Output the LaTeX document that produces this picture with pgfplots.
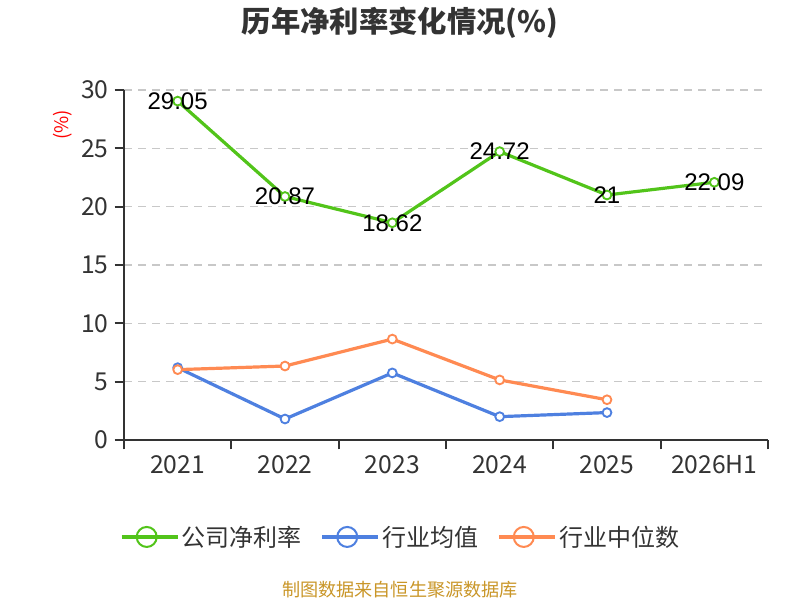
\documentclass[border=0pt]{standalone}
\usepackage{fontspec}
\setmainfont{Noto Sans CJK SC}
\newfontfamily\labelfont{Liberation Sans}
\usepackage{pgfplots}
\pgfplotsset{compat=1.18}
\definecolor{cgreen}{RGB}{82,196,26}
\definecolor{cblue}{RGB}{78,128,224}
\definecolor{corange}{RGB}{255,138,82}
\definecolor{taxis}{RGB}{51,51,51}
\definecolor{tgrid}{RGB}{200,200,200}
\definecolor{tfoot}{RGB}{201,150,40}
\begin{document}
\begin{tikzpicture}
\path (0,0) rectangle (600pt,450pt);
\begin{axis}[
  at={(93pt,120pt)}, anchor=south west,
  scale only axis, width=483pt, height=262.5pt,
  xmin=-0.5, xmax=5.5, ymin=0, ymax=30,
  axis x line*=bottom, axis y line*=left,
  axis line style={taxis, line width=1.5pt, -},
  xtick={0,...,5},
  xticklabels={2021,2022,2023,2024,2025,2026H1},
  minor xtick={-0.5,0.5,1.5,2.5,3.5,4.5,5.5},
  major x tick style={draw=none},
  minor x tick style={taxis, line width=1.5pt},
  minor tick length=7pt,
  ytick={0,5,...,30},
  y tick style={taxis, line width=1.5pt},
  major tick length=7pt,
  tick align=outside,
  ymajorgrids,
  grid style={tgrid, dashed, dash pattern=on 6pt off 4.5pt, line width=1pt},
  /pgf/number format/assume math mode=true,
  tick label style={font=\fontsize{18.5}{21}\selectfont, text=taxis},
  xticklabel style={yshift=-1pt},
  yticklabel style={xshift=-1pt},
  clip=false,
  legend columns=3,
  legend style={at={(0.43,-0.277)}, anchor=center, draw=none, fill=none,
    font=\fontsize{18}{21}\selectfont, text=taxis,
    /tikz/every even column/.append style={column sep=12pt}},
  legend cell align=left,
  legend image code/.code={
    \draw[#1, line width=1.5pt, mark=none] (0pt,0pt) -- (37.5pt,0pt);
    \draw[#1, line width=1.5pt, fill=white, mark=none] (18.75pt,0pt) circle (7.5pt);
    \path (0pt,0pt) -- (42pt,0pt);
  },
  every axis plot/.append style={line width=2.4pt, mark=*, mark size=3.3pt},
]
\addplot[cgreen, mark options={draw=cgreen, fill=white, line width=1.4pt},
  nodes near coords, point meta=explicit symbolic,
  every node near coord/.style={anchor=center, text=black, font=\labelfont\fontsize{18}{20}\selectfont}]
  coordinates {(0,29.05)[29.05] (1,20.87)[20.87] (2,18.62)[18.62] (3,24.72)[24.72] (4,21)[21] (5,22.09)[22.09]};
\addlegendentry{公司净利率}
\addplot[cblue, mark options={draw=cblue, fill=white, line width=1.4pt}]
  coordinates {(0,6.2) (1,1.8) (2,5.75) (3,2.0) (4,2.35)};
\addlegendentry{行业均值}
\addplot[corange, mark options={draw=corange, fill=white, line width=1.4pt}]
  coordinates {(0,6.03) (1,6.34) (2,8.65) (3,5.15) (4,3.45)};
\addlegendentry{行业中位数}
\node[rotate=90, text=red, font=\fontsize{14}{16}\selectfont] at (axis description cs:-0.095,0.9) {(\%)};
\end{axis}
\node[font=\fontsize{22}{25}\selectfont\bfseries, text=taxis] at (300pt,433pt) {历年净利率变化情况(\%)};
\node[font=\fontsize{13.6}{15}\selectfont, text=tfoot] at (300pt,7.5pt) {制图数据来自恒生聚源数据库};
\end{tikzpicture}
\end{document}
